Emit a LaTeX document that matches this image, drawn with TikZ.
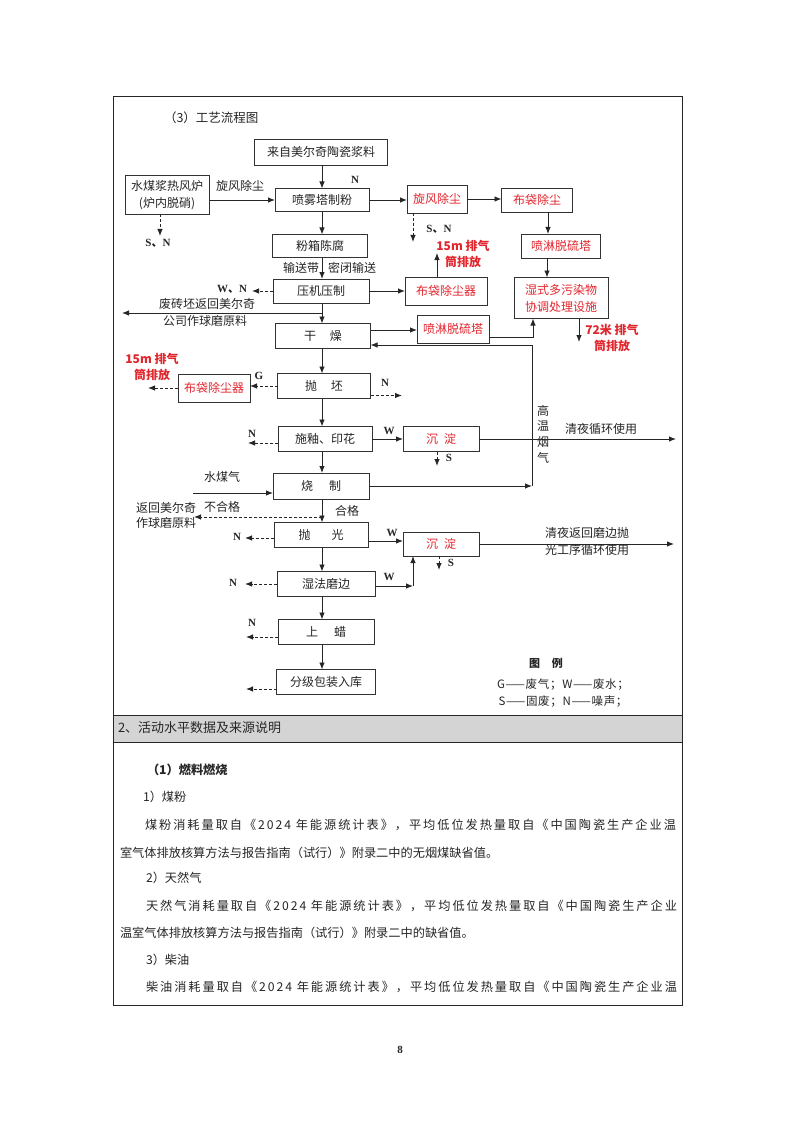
\documentclass[tikz,border=0pt]{standalone}
\usepackage{fontspec}
\setmainfont{Noto Sans CJK SC}
\newfontfamily\ser{Liberation Serif}
\usepackage{xcolor}
\usepackage{tikz}
\usetikzlibrary{arrows.meta, calc, positioning}

\definecolor{redtxt}{RGB}{226,38,46}
\newcommand\rmlt[1]{{\ser\bfseries #1}}

\tikzset{
  every node/.style={inner sep=0pt, outer sep=0pt, font=\fontsize{12}{14}\selectfont, text=black!85},
  box/.style={draw=black!80, line width=0.8pt},
  rbox/.style={box, text=redtxt},
  arr/.style={-{Latex[length=7pt,width=5.5pt]}, line width=0.9pt, black!85},
  darr/.style={arr, dash pattern=on 3pt off 2pt},
  lat/.style={font=\ser\bfseries\fontsize{11}{13}\selectfont},
  rnote/.style={text=redtxt, align=center, font=\bfseries\fontsize{12}{16}\selectfont},
  body/.style={anchor=west, font=\fontsize{12.2}{14}\selectfont}
}

\begin{document}
\begin{tikzpicture}[x=1pt, y=-1pt]
  \fill[white] (0,0) rectangle (794,1123);
  \useasboundingbox (0,0) rectangle (794,1123);
  % table frame
  \draw[line width=0.9pt, black!85] (113,96) rectangle (682,1005);
  \filldraw[fill=black!17, draw=black!85, line width=0.9pt] (113,715) rectangle (682,742);

  \node[anchor=west, font=\fontsize{12.5}{14}\selectfont] (title) at (164,118) {（3）工艺流程图};

  % main process column
  \node[box, minimum width=133, minimum height=26] (src) at (321,152) {来自美尔奇陶瓷浆料};
  \node[box, minimum width=94, minimum height=23] (pwt) at (322,200) {喷雾塔制粉};
  \node[box, minimum width=95, minimum height=23] (fx) at (320,246) {粉箱陈腐};
  \node[box, minimum width=96, minimum height=24] (yj) at (321,291) {压机压制};
  \node[box, minimum width=95, minimum height=25] (gz) at (323,336) {干\hspace{14pt}燥};
  \node[box, minimum width=93, minimum height=25] (pp) at (324,386) {抛\hspace{14pt}坯};
  \node[box, minimum width=94, minimum height=25] (sy) at (325,439) {施釉、印花};
  \node[box, minimum width=96, minimum height=26] (sz) at (321,486) {烧\hspace{16pt}制};
  \node[box, minimum width=94, minimum height=25] (pg) at (321,535) {抛\hspace{21pt}光};
  \node[box, minimum width=98, minimum height=25] (sf) at (326,584) {湿法磨边};
  \node[box, minimum width=96, minimum height=25] (sl) at (326,632) {上\hspace{16pt}蜡};
  \node[box, minimum width=99, minimum height=25] (fj) at (326,682) {分级包装入库};
  \node[box, minimum width=84, minimum height=39, align=center,
        font=\fontsize{12}{17}\selectfont] (rfl) at (167,195) {水煤浆热风炉\\(炉内脱硝)};

  % treatment units (red)
  \node[rbox, minimum width=60, minimum height=28] (xf) at (437,199) {旋风除尘};
  \node[rbox, minimum width=71, minimum height=24] (bd1) at (537,200) {布袋除尘};
  \node[rbox, minimum width=79, minimum height=24] (pl1) at (561,246) {喷淋脱硫塔};
  \node[rbox, minimum width=94, minimum height=41, align=center,
        font=\fontsize{12}{17}\selectfont] (ss) at (561,298) {湿式多污染物\\协调处理设施};
  \node[rbox, minimum width=82, minimum height=28] (bd2) at (446,291) {布袋除尘器};
  \node[rbox, minimum width=72, minimum height=28] (pl2) at (453,329) {喷淋脱硫塔};
  \node[rbox, minimum width=72, minimum height=28] (bd3) at (214,388) {布袋除尘器};
  \node[rbox, minimum width=76, minimum height=25] (cd1) at (441,439) {沉\hspace{6pt}淀};
  \node[rbox, minimum width=76, minimum height=24] (cd2) at (441,544) {沉\hspace{6pt}淀};

  % free ends
  \coordinate (col) at (322,0);
  \coordinate (sn1) at (160,236);
  \coordinate (sn2) at (413,242);
  \coordinate (ex15a) at (437,253);
  \coordinate (ex72) at (579,342);
  \coordinate (wn) at (252,291);
  \coordinate (br1) at (322,313);
  \coordinate (fz) at (122,313);
  \coordinate (ex15b) at (148,388);
  \coordinate (pn) at (402,0);
  \coordinate (nsy) at (248,0);
  \coordinate (s1) at (437,466);
  \coordinate (r1) at (676,439);
  \coordinate (gx) at (532,486);
  \coordinate (swq) at (193,493);
  \coordinate (bh1) at (322,517);
  \coordinate (bh2) at (194,517);
  \coordinate (npg) at (245,0);
  \coordinate (s2) at (439,570);
  \coordinate (r2) at (674,544);
  \coordinate (sc) at (413,0);
  \coordinate (nl) at (246,0);

  % main column arrows
  \foreach \a/\b in {src/pwt, pwt/fx, fx/yj, yj/gz, gz/pp, pp/sy, sy/sz, sz/pg, pg/sf, sf/sl, sl/fj}
    \draw[arr] (\a.south -| col) -- (\b.north -| col);

  % spray tower and hot air furnace
  \draw[arr] (rfl.east |- pwt.west) -- (pwt.west);
  \draw[darr] (rfl.south -| sn1) -- (sn1);
  \draw[arr] (pwt.east) -- (pwt.east -| xf.west);
  \draw[arr] (xf.east) -- (xf.east -| bd1.west);
  \draw[darr] (xf.south -| sn2) -- (sn2);
  \draw[arr] ([xshift=11pt]bd1.south) -- ([xshift=11pt]bd1.south |- pl1.north);
  \draw[arr] ([xshift=-14pt]pl1.south) -- ([xshift=-14pt]pl1.south |- ss.north);
  \draw[arr] (ss.south -| ex72) -- (ex72);

  % press and dryer
  \draw[arr] (yj.east) -- (yj.east -| bd2.west);
  \draw[arr] (bd2.north -| ex15a) -- (ex15a);
  \draw[darr] (yj.west) -- (wn);
  \draw[arr] (br1) -- (fz);
  \draw[arr] ([yshift=6pt]gz.east) -- ([yshift=6pt]gz.east -| pl2.west);
  \draw[arr] ([yshift=-8pt]pl2.east) -| ([xshift=-28pt]ss.south);
  \draw[arr] (sz.east) -- (gx);
  \draw[arr] (gx) |- ([yshift=-9pt]gz.east);

  % blank polishing, glazing
  \draw[darr] (pp.west) -- (pp.west -| bd3.east);
  \draw[darr] (bd3.west) -- (bd3.west -| ex15b);
  \draw[darr] ([yshift=-9.5pt]pp.east) -- ([yshift=-9.5pt]pp.east -| pn);
  \draw[darr] ([yshift=-4pt]sy.west) -- ([yshift=-4pt]sy.west -| nsy);
  \draw[arr] (sy.east) -- (sy.east -| cd1.west);
  \draw[darr] (cd1.south -| s1) -- (s1);
  \draw[arr] (cd1.east) -- (r1);

  % firing and polishing
  \draw[arr] (swq) -- (swq -| sz.west);
  \draw[darr] (bh1) -- (bh2);
  \draw[darr] ([yshift=-3pt]pg.west) -- ([yshift=-3pt]pg.west -| npg);
  \draw[arr] ([yshift=-6pt]pg.east) -- ([yshift=-6pt]pg.east -| cd2.west);
  \draw[darr] (cd2.south -| s2) -- (s2);
  \draw[arr] (cd2.east) -- (r2);
  \draw[arr] ([yshift=-2pt]sf.east) -- ([yshift=-2pt]sf.east -| sc);
  \draw[arr] ([yshift=-2pt]sf.east -| sc) -- (cd2.south -| sc);
  \draw[darr] (sf.west) -- (sf.west -| npg);
  \draw[darr] ([yshift=-5pt]sl.west) -- ([yshift=-5pt]sl.west -| nl);
  \draw[darr] ([yshift=-7pt]fj.west) -- ([yshift=-7pt]fj.west -| nl);

  % labels
  \node[lat] (nA) at (355,180) {N};
  \node (lxf) at (240,186) {旋风除尘};
  \node[font=\bfseries\fontsize{11}{13}\selectfont] (lsn1) at (158,243) {\rmlt{S}、\rmlt{N}};
  \node[font=\bfseries\fontsize{11}{13}\selectfont] (lsn2) at (439,229) {\rmlt{S}、\rmlt{N}};
  \node[rnote] (l15a) at (463,254) {15m 排气\\筒排放};
  \node[rnote] (l72) at (612,338) {72米 排气\\筒排放};
  \node (lsd1) at (301,268) {输送带};
  \node (lsd2) at (352,268) {密闭输送};
  \node[font=\bfseries\fontsize{11}{13}\selectfont] (lwn) at (232,289) {\rmlt{W}、\rmlt{N}};
  \node (lfz1) at (207,304) {废砖坯返回美尔奇};
  \node (lfz2) at (205,321) {公司作球磨原料};
  \node[lat] (lG) at (259,376) {G};
  \node[rnote] (l15b) at (152,367) {15m 排气\\筒排放};
  \node[lat] (lNpp) at (385,383) {N};
  \node[lat] (lNsy) at (252,434) {N};
  \node[lat] (lWsy) at (389,431) {W};
  \node[lat] (lS1) at (449,458) {S};
  \node (lqx) at (601,429) {清夜循环使用};
  \node[align=center, font=\fontsize{12}{15.7}\selectfont] (lgw) at (543,434) {高\\温\\烟\\气};
  \node (lswq) at (222,477) {水煤气};
  \node (lbhg) at (222,507) {不合格};
  \node[anchor=west, align=left, font=\fontsize{12}{15}\selectfont] (lfh) at (136,515) {返回美尔奇\\作球磨原料};
  \node (lhg) at (347,511) {合格};
  \node[lat] (lNpg) at (237,537) {N};
  \node[lat] (lWpg) at (392,533) {W};
  \node[lat] (lS2) at (451,563) {S};
  \node[align=center, font=\fontsize{12}{17}\selectfont] (lqf) at (587,541) {清夜返回磨边抛\\光工序循环使用};
  \node[lat] (lWsf) at (389,577) {W};
  \node[lat] (lNsf) at (233,583) {N};
  \node[lat] (lNsl) at (252,623) {N};

  % legend
  \node[font=\bfseries\fontsize{11}{13}\selectfont] (lgt) at (546,663) {图\hspace{12pt}例};
  \node[font=\fontsize{11.5}{13}\selectfont] (lg1) at (563,685) {\addfontfeature{LetterSpace=6}G——废气；W——废水；};
  \node[font=\fontsize{11.5}{13}\selectfont] (lg2) at (563,702) {\addfontfeature{LetterSpace=6}S——固废；N——噪声；};

  % text below the chart
  \node[body, font=\fontsize{13}{14}\selectfont] (hdr) at (118,728) {2、活动水平数据及来源说明};
  \node[body, font=\bfseries\fontsize{12.2}{14}\selectfont] (t1) at (147,770) {（1）燃料燃烧};
  \node[body] (t2) at (143,797) {1）煤粉};
  \node[body] (t3) at (145,825) {\addfontfeature{LetterSpace=16}煤粉消耗量取自《2024 年能源统计表》，平均低位发热量取自《中国陶瓷生产企业温};
  \node[body] (t4) at (120,853) {室气体排放核算方法与报告指南（试行）》附录二中的无烟煤缺省值。};
  \node[body] (t5) at (146,878) {2）天然气};
  \node[body] (t6) at (146,906) {\addfontfeature{LetterSpace=16}天然气消耗量取自《2024 年能源统计表》，平均低位发热量取自《中国陶瓷生产企业};
  \node[body] (t7) at (120,933) {温室气体排放核算方法与报告指南（试行）》附录二中的缺省值。};
  \node[body] (t8) at (146,960) {3）柴油};
  \node[body] (t9) at (146,987) {\addfontfeature{LetterSpace=16}柴油消耗量取自《2024 年能源统计表》，平均低位发热量取自《中国陶瓷生产企业温};
  \node[font=\ser\bfseries\fontsize{11}{13}\selectfont] (pgno) at (400,1050) {8};
\end{tikzpicture}
\end{document}
